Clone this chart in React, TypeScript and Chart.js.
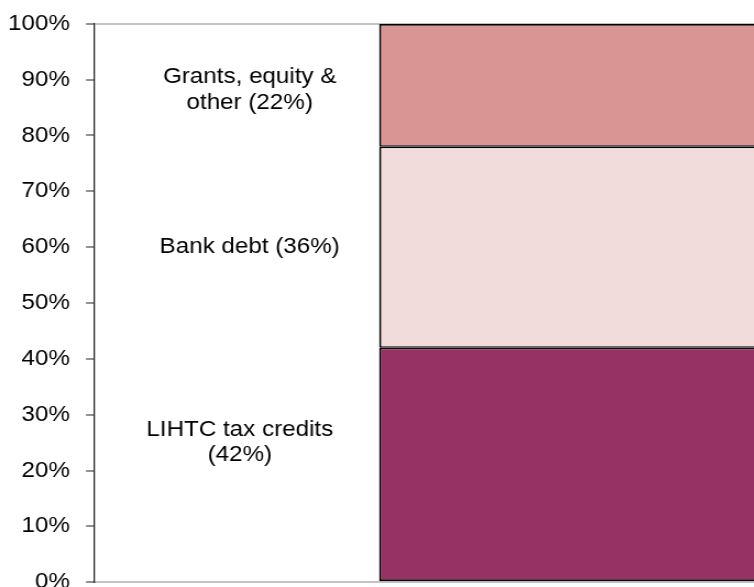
import React, { useEffect, useRef } from "react";
import { Chart, registerables } from "chart.js";

Chart.register(...registerables);

const categories = ["Financing"];
const seriesNames = ["LIHTC tax credits", "Bank debt", "Grants, equity & other"];
const seriesValues = [42, 36, 22];
const seriesColors = ["#963264", "#F1DCDB", "#D99594"];
const labelLines = [["LIHTC tax credits", "(42%)"], ["Bank debt (36%)"], ["Grants, equity &", "other (22%)"]];
const labelAnchors = [25, 60, 88.2];
const labelCentersX = [218, 227, 227];

const STRETCH = 1.1;
const CANVAS_W = 1122;
const CANVAS_H = 614;

const borderWidths = [
  { top: 1.5, bottom: 2, left: 2, right: 2 },
  { top: 1.5, bottom: 1.5, left: 2, right: 2 },
  { top: 2, bottom: 1.5, left: 2, right: 2 },
];

const labelPlugin = {
  id: "segmentLabels",
  afterDraw(chart: any) {
    const ctx = chart.ctx;
    const y = chart.scales.y;
    ctx.save();
    ctx.fillStyle = "#000";
    ctx.font = "22px 'Liberation Sans', Arial, sans-serif";
    ctx.textAlign = "center";
    ctx.textBaseline = "middle";
    labelLines.forEach((lines, i) => {
      const cy = y.getPixelForValue(labelAnchors[i]);
      const lh = 25.5;
      const start = cy - ((lines.length - 1) * lh) / 2;
      lines.forEach((t, j) => ctx.fillText(t, labelCentersX[i], start + j * lh));
    });
    ctx.restore();
  },
};

export default function App() {
  const ref = useRef<HTMLCanvasElement | null>(null);
  useEffect(() => {
    if (!ref.current) return;
    const chart = new Chart(ref.current, {
      type: "bar",
      data: {
        labels: categories,
        datasets: seriesNames.map((n, i) => ({
          label: n,
          data: [seriesValues[i]],
          backgroundColor: seriesColors[i],
          borderColor: "#000",
          borderWidth: borderWidths[i],
          borderSkipped: false,
          barPercentage: 0.5,
          categoryPercentage: 1,
        })),
      },
      options: {
        responsive: false,
        animation: false,
        devicePixelRatio: 1,
        layout: { padding: { top: 20, bottom: 7, left: 0, right: 0 } },
        plugins: { legend: { display: false }, tooltip: { enabled: false } },
        scales: {
          x: {
            stacked: true,
            ticks: { display: false },
            grid: { display: false, drawTicks: false },
            border: { display: true, color: "#C4C4C4", width: 2 },
            afterFit: (s: any) => { s.height = 0; },
          },
          y: {
            stacked: true,
            min: 0,
            max: 100,
            ticks: {
              stepSize: 10,
              padding: 14.6,
              color: "#000",
              font: { family: "'Liberation Sans', Arial, sans-serif", size: 22 },
              callback: (v: any) => v + "%",
            },
            grid: {
              color: (c: any) => (c.tick && c.tick.value === 100 ? "#C4C4C4" : "rgba(0,0,0,0)"),
              lineWidth: 2,
              tickColor: "#222",
              tickLength: 7.3,
              tickWidth: 1,
            },
            border: { display: true, color: "#222", width: 1.3 },
            afterFit: (s: any) => { s.width = 85.5; },
          },
        },
      },
      plugins: [labelPlugin],
    });
    return () => chart.destroy();
  }, []);
  return (
    <div style={{ position: "absolute", left: 0, top: 0, width: 754, height: 587, overflow: "hidden", background: "#fff" }}>
      <div style={{ marginTop: -4, width: CANVAS_W, height: CANVAS_H, transform: `scaleX(${STRETCH})`, transformOrigin: "0 0" }}>
        <canvas ref={ref} width={CANVAS_W} height={CANVAS_H} style={{ display: "block" }} />
      </div>
    </div>
  );
}
